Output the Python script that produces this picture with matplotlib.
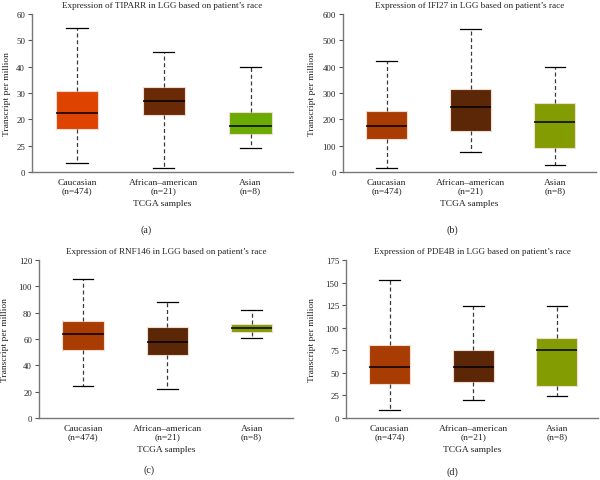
import matplotlib
matplotlib.use("Agg")
import matplotlib.pyplot as plt

plt.rcParams['font.family'] = ['Liberation Serif', 'DejaVu Serif']

categories = ["Caucasian\n(n=474)", "African\u2013american\n(n=21)", "Asian\n(n=8)"]

titles = ["Expression of TIPARR in LGG based on patient\u2019s race",
          "Expression of IFI27 in LGG based on patient\u2019s race",
          "Expression of RNF146 in LGG based on patient\u2019s race",
          "Expression of PDE4B in LGG based on patient\u2019s race"]
panel_labels = ["(a)", "(b)", "(c)", "(d)"]

# stats per panel: [whislo, q1, med, q3, whishi] for Caucasian, African-american, Asian
tiparr = [[3.4, 16.4, 22.3, 30.9, 54.8], [1.6, 21.7, 27.0, 32.4, 45.7], [9.2, 14.4, 17.6, 22.9, 39.8]]
ifi27 = [[15, 125, 173, 231, 420], [76, 155, 246, 314, 544], [25, 92, 189, 261, 400]]
rnf146 = [[24.5, 52.0, 63.5, 73.6, 105.9], [22.4, 47.9, 57.5, 68.9, 88.0], [60.5, 65.5, 68.0, 71.3, 82.2]]
pde4b = [[9.2, 38.2, 56.3, 81.3, 152.6], [20.2, 40.4, 56.3, 75.0, 123.5], [24.3, 35.0, 75.0, 88.6, 124.3]]

yticks_a = [0, 10, 20, 30, 40, 50, 60]
yticklabels_a = ["0", "25", "20", "30", "40", "50", "60"]
yticks_b = [0, 100, 200, 300, 400, 500, 600]
yticks_c = [0, 20, 40, 60, 80, 100, 120]
yticks_d = [0, 25, 50, 75, 100, 125, 150, 175]

colors_a = ["#DE4300", "#6A2A08", "#6AAA02"]
colors_other = ["#A83C02", "#5C2707", "#839C02"]

W, H = 600, 481
fig = plt.figure(figsize=(6.0, 4.81), dpi=100)

# axes boxes in pixels: left, top, right, bottom
boxes_px = [(32, 15, 293, 173), (343, 15, 596, 173), (39, 261, 293, 419), (346, 261, 598, 419)]
data = [tiparr, ifi27, rnf146, pde4b]
yt = [yticks_a, yticks_b, yticks_c, yticks_d]
ylims = [(0, 60), (0, 600), (0, 120), (0, 175)]
cols = [colors_a, colors_other, colors_other, colors_other]
ylabel_x = [7, 312, 5, 312]
plabel_pos = [(146, 230), (452, 230), (149, 470), (452, 472)]

for i in range(4):
    l, t, r, b = boxes_px[i]
    ax = fig.add_axes([l / W, 1 - b / H, (r - l) / W, (b - t) / H])
    stats = []
    for s in data[i]:
        stats.append(dict(whislo=s[0], q1=s[1], med=s[2], q3=s[3], whishi=s[4], fliers=[]))
    bp = ax.bxp(stats, positions=[0, 1, 2], widths=0.49, patch_artist=True, showfliers=False,
                boxprops=dict(edgecolor="#f2dccf", linewidth=0.8),
                medianprops=dict(color="black", linewidth=1.1),
                whiskerprops=dict(color="#3a3a3a", linewidth=0.9, linestyle=(0, (3.2, 2.2))),
                capprops=dict(color="black", linewidth=0.9), capwidths=0.245)
    for patch, c in zip(bp['boxes'], cols[i]):
        patch.set_facecolor(c)
    ax.set_xlim(-0.52, 2.49)
    ax.set_ylim(*ylims[i])
    ax.set_yticks(yt[i])
    if i == 0:
        ax.set_yticklabels(yticklabels_a)
    ax.set_xticks([0, 1, 2])
    ax.set_xticklabels(categories, fontsize=6.8, color="#222222", linespacing=1.15)
    ax.tick_params(axis='x', length=0, pad=4)
    ax.tick_params(axis='y', length=3, width=0.8, color="#555555", labelsize=6.3,
                   labelcolor="#222222", pad=2)
    for sp in ['top', 'right']:
        ax.spines[sp].set_visible(False)
    for sp in ['left', 'bottom']:
        ax.spines[sp].set_color("#777777")
        ax.spines[sp].set_linewidth(1.0)
    ax.set_title(titles[i], fontsize=6.6, color="#222222", pad=5)
    ax.set_xlabel("TCGA samples", fontsize=6.8, color="#222222", labelpad=3)
    fig.text(ylabel_x[i] / W, 1 - ((t + b) / 2) / H, "Transcript per million", rotation=90,
             ha='center', va='center', fontsize=6.8, color="#222222")
    px, py = plabel_pos[i]
    fig.text(px / W, 1 - py / H, panel_labels[i], ha='center', va='center', fontsize=7.2,
             color="#222222")

fig.savefig("out.png", dpi=100)
